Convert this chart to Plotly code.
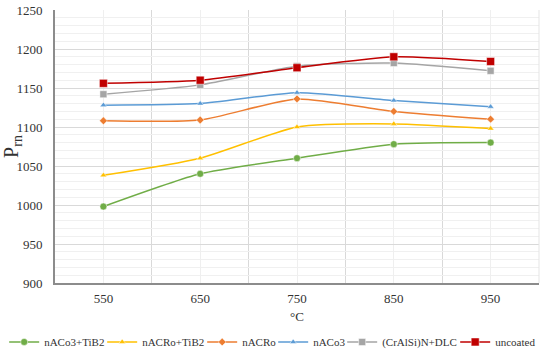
import plotly.graph_objects as go

temps = [550, 650, 750, 850, 950]
series_names = ["nACo3+TiB2", "nACRo+TiB2", "nACRo", "nACo3", "(CrAlSi)N+DLC", "uncoated"]
nACo3_TiB2 = [998, 1040, 1060, 1078, 1080]
nACRo_TiB2 = [1038, 1060, 1100, 1104, 1098]
nACRo = [1108, 1109, 1136, 1120, 1110]
nACo3 = [1128, 1130, 1144, 1134, 1126]
CrAlSiN_DLC = [1142, 1154, 1178, 1182, 1172]
uncoated = [1156, 1160, 1176, 1190, 1184]

values = [nACo3_TiB2, nACRo_TiB2, nACRo, nACo3, CrAlSiN_DLC, uncoated]
colors = ["#70AD47", "#FFC000", "#ED7D31", "#5B9BD5", "#A5A5A5", "#C00000"]
symbols = ["circle", "triangle-up", "diamond", "triangle-up", "square", "square"]
sizes = [7, 6, 6, 6, 7, 8]
legend_widths = [53, 55, 26, 24, 68, 42]

fig = go.Figure()
for name, v, c, s, sz, lw in zip(series_names, values, colors, symbols, sizes, legend_widths):
    fig.add_trace(go.Scatter(
        x=temps, y=v, name=name, mode="lines+markers",
        line=dict(color=c, width=1.5, shape="spline", smoothing=0.6),
        marker=dict(color=c, symbol=s, size=sz, line=dict(color="white", width=0.5)),
        legendwidth=lw,
    ))

font = "Liberation Serif"
fig.update_layout(
    width=550, height=354,
    margin=dict(l=55, r=11, t=10, b=71, autoexpand=False),
    plot_bgcolor="white", paper_bgcolor="white",
    font=dict(family=font, size=13, color="#333333"),
    showlegend=True,
    legend=dict(orientation="h", x=-0.105, xanchor="left", y=-0.216, yanchor="middle",
                font=dict(family=font, size=11), itemwidth=30, tracegroupgap=0),
    xaxis=dict(
        range=[500, 1000], tickvals=temps, ticktext=[str(t) for t in temps],
        showgrid=True, gridcolor="#EFEFEF", gridwidth=1,
        minor=dict(tickvals=[600, 700, 800, 900], showgrid=True, gridcolor="#D9D9D9", gridwidth=1, ticks=""),
        showline=True, linecolor="#8C8C8C", linewidth=2, mirror=False,
        ticks="", zeroline=False, ticklabelstandoff=2, automargin=False,
        title=dict(text="°C", standoff=7, font=dict(family=font, size=13)),
    ),
    yaxis=dict(
        range=[900, 1250], dtick=50, tick0=900,
        showgrid=True, gridcolor="#D9D9D9", gridwidth=1,
        minor=dict(dtick=10, showgrid=True, gridcolor="#F0F0F0", gridwidth=1, ticks=""),
        showline=True, linecolor="#8C8C8C", linewidth=2,
        ticks="", zeroline=False, ticklabelstandoff=8, automargin=False,
        title=dict(text="P<sub>rn</sub>", standoff=2, font=dict(family=font, size=20)),
    ),
)
fig.add_shape(type="line", xref="paper", yref="paper", x0=1, x1=1, y0=0, y1=1,
              line=dict(color="#E5E5E5", width=1))
fig.write_html("out.html", config={"displayModeBar": False},
               post_script="document.body.style.margin='0';")
